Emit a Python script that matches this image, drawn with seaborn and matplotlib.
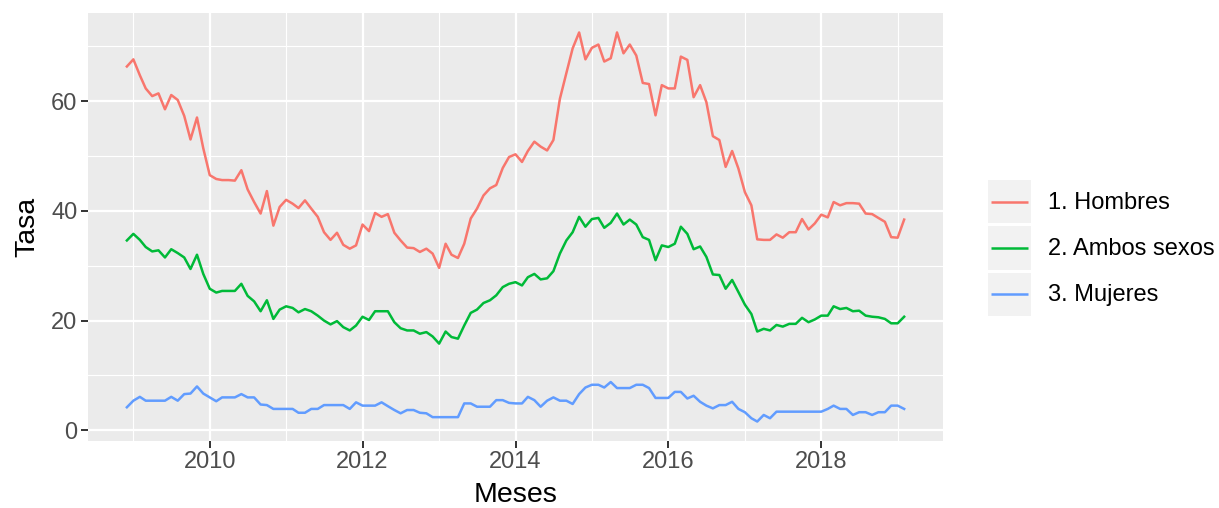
import pandas as pd
import numpy as np
import matplotlib
matplotlib.use("Agg")
import matplotlib.pyplot as plt
import seaborn as sns
from matplotlib.lines import Line2D
from matplotlib.patches import Rectangle
from matplotlib.legend_handler import HandlerLine2D

# monthly rates, Dec 2008 .. Feb 2019
start = "2008-12-01"

hombres = [66.3, 67.6, 64.7, 62.3, 60.9, 61.4, 58.5, 61.1, 60.2, 57.3, 53.0, 57.0,
           51.4, 46.5, 45.8, 45.6, 45.6, 45.5, 47.4, 43.9, 41.6, 39.5, 43.6, 37.3,
           40.7, 42.0, 41.3, 40.5, 41.9, 40.4, 38.9, 36.1, 34.7, 36.0, 33.8, 33.1,
           33.7, 37.5, 36.3, 39.6, 38.9, 39.4, 36.0, 34.6, 33.3, 33.2, 32.5, 33.1,
           32.2, 29.6, 34.0, 32.0, 31.4, 34.0, 38.6, 40.4, 42.8, 44.1, 44.7, 47.8,
           49.8, 50.3, 48.9, 50.9, 52.6, 51.7, 51.0, 52.9, 60.4, 65.1, 69.6, 72.5,
           67.6, 69.7, 70.3, 67.2, 67.8, 72.5, 68.7, 70.3, 68.3, 63.3, 63.1, 57.4,
           62.9, 62.3, 62.3, 68.1, 67.5, 60.7, 62.9, 59.8, 53.6, 52.9, 48.0, 50.9,
           47.7, 43.4, 41.0, 34.8, 34.7, 34.7, 35.7, 35.1, 36.1, 36.1, 38.5, 36.6,
           37.7, 39.3, 38.8, 41.6, 41.0, 41.4, 41.4, 41.3, 39.5, 39.4, 38.7, 38.0,
           35.2, 35.1, 38.4]

ambos = [34.6, 35.8, 34.7, 33.4, 32.6, 32.8, 31.5, 33.0, 32.3, 31.5, 29.4, 32.0,
         28.5, 25.8, 25.1, 25.4, 25.4, 25.4, 26.7, 24.5, 23.5, 21.7, 23.7, 20.3,
         22.0, 22.6, 22.3, 21.5, 22.1, 21.7, 20.9, 20.0, 19.3, 19.9, 18.8, 18.2,
         19.1, 20.7, 20.1, 21.7, 21.7, 21.7, 19.7, 18.6, 18.2, 18.2, 17.6, 17.9,
         17.1, 15.8, 18.0, 17.0, 16.7, 19.1, 21.4, 22.0, 23.2, 23.7, 24.6, 26.1,
         26.7, 27.0, 26.4, 27.9, 28.5, 27.5, 27.7, 29.0, 32.2, 34.6, 36.1, 38.9,
         37.1, 38.5, 38.7, 36.9, 37.8, 39.5, 37.5, 38.4, 37.5, 35.2, 34.7, 31.0,
         33.7, 33.4, 34.0, 37.1, 35.8, 33.0, 33.5, 31.6, 28.4, 28.3, 25.8, 27.4,
         25.2, 22.9, 21.2, 18.0, 18.5, 18.2, 19.2, 18.9, 19.4, 19.4, 20.5, 19.7,
         20.2, 20.9, 20.9, 22.6, 22.1, 22.3, 21.7, 21.8, 20.9, 20.7, 20.6, 20.3,
         19.5, 19.5, 20.7]

mujeres = [4.2, 5.4, 6.1, 5.4, 5.4, 5.4, 5.4, 6.1, 5.4, 6.6, 6.7, 8.0,
           6.7, 6.0, 5.3, 6.0, 6.0, 6.0, 6.6, 6.0, 6.0, 4.7, 4.6, 3.9,
           3.9, 3.9, 3.9, 3.2, 3.2, 3.9, 3.9, 4.6, 4.6, 4.6, 4.6, 3.9,
           5.1, 4.5, 4.5, 4.5, 5.1, 4.4, 3.7, 3.1, 3.7, 3.7, 3.2, 3.1,
           2.4, 2.4, 2.4, 2.4, 2.4, 4.9, 4.9, 4.3, 4.3, 4.3, 5.5, 5.5,
           5.0, 4.9, 4.9, 6.1, 5.5, 4.3, 5.4, 6.0, 5.4, 5.4, 4.8, 6.6,
           7.8, 8.3, 8.3, 7.8, 8.8, 7.7, 7.7, 7.7, 8.3, 8.3, 7.7, 5.9,
           5.9, 5.9, 7.0, 7.0, 5.8, 6.3, 5.2, 4.5, 4.0, 4.6, 4.6, 5.2,
           3.9, 3.3, 2.2, 1.6, 2.8, 2.2, 3.4, 3.4, 3.4, 3.4, 3.4, 3.4,
           3.4, 3.4, 3.9, 4.5, 3.9, 3.9, 2.8, 3.3, 3.3, 2.8, 3.3, 3.3,
           4.5, 4.5, 3.9]

grupos = ["1. Hombres", "2. Ambos sexos", "3. Mujeres"]
colores = ["#F8766D", "#00BA38", "#619CFF"]
major_years = [2010, 2012, 2014, 2016, 2018]
minor_years = [2009, 2011, 2013, 2015, 2017, 2019]
y_major = [0, 20, 40, 60]
y_minor = [10, 30, 50, 70]

meses = pd.date_range(start, periods=len(hombres), freq="MS")
df = pd.concat([
    pd.DataFrame({"Meses": meses, "Tasa": vals, "grupo": g})
    for g, vals in zip(grupos, [hombres, ambos, mujeres])
], ignore_index=True)

plt.rcParams["font.family"] = ["Liberation Sans", "DejaVu Sans"]

fig = plt.figure(figsize=(12.19, 5.08), dpi=100)
ax = fig.add_axes([0.0722, 0.1319, 0.7014, 0.8425])
ax.set_facecolor("#EBEBEB")

sns.lineplot(data=df, x="Meses", y="Tasa", hue="grupo", hue_order=grupos,
             palette=dict(zip(grupos, colores)), linewidth=1.8, ax=ax)

# ggplot-like expansion
span = meses[-1] - meses[0]
ax.set_xlim(meses[0] - span * 0.05, meses[-1] + span * 0.05)
allv = hombres + ambos + mujeres
rng = max(allv) - min(allv)
ax.set_ylim(min(allv) - rng * 0.05, max(allv) + rng * 0.05)

ax.set_xticks(pd.to_datetime([f"{y}-01-01" for y in major_years]))
ax.set_xticklabels([str(y) for y in major_years])
ax.set_xticks(pd.to_datetime([f"{y}-01-01" for y in minor_years]), minor=True)
ax.set_yticks(y_major)
ax.set_yticks(y_minor, minor=True)

ax.grid(which="major", color="white", linewidth=1.6)
ax.grid(which="minor", color="white", linewidth=0.8)
ax.set_axisbelow(True)
for s in ax.spines.values():
    s.set_visible(False)

ax.tick_params(which="major", length=5, width=1.4, color="#333333",
               labelsize=17, labelcolor="#4D4D4D", pad=2.5)
ax.tick_params(which="minor", length=0)
ax.set_xlabel("Meses", fontsize=20.5, labelpad=6)
ax.set_ylabel("Tasa", fontsize=20.5, labelpad=8)


class KeyHandler(HandlerLine2D):
    def create_artists(self, legend, orig_handle, xdescent, ydescent,
                       width, height, fontsize, trans):
        rect = Rectangle((-xdescent, -ydescent), width, height,
                         facecolor="#F2F2F2", edgecolor="none", transform=trans)
        yc = -ydescent + height / 2
        line = Line2D([-xdescent + width * 0.08, -xdescent + width * 0.92], [yc, yc],
                      color=orig_handle.get_color(), linewidth=orig_handle.get_linewidth(),
                      transform=trans, solid_capstyle="butt")
        return [rect, line]


handles, labels = ax.get_legend_handles_labels()
ax.get_legend().remove()
fig.legend(handles, labels, loc="center left", bbox_to_anchor=(988 / 1219, 1 - 248 / 508),
           frameon=False, fontsize=17, handlelength=1.82, handleheight=2.43,
           labelspacing=0.13, handletextpad=0.72, borderpad=0, borderaxespad=0,
           handler_map={Line2D: KeyHandler()})

fig.savefig("out.png", dpi=100)
